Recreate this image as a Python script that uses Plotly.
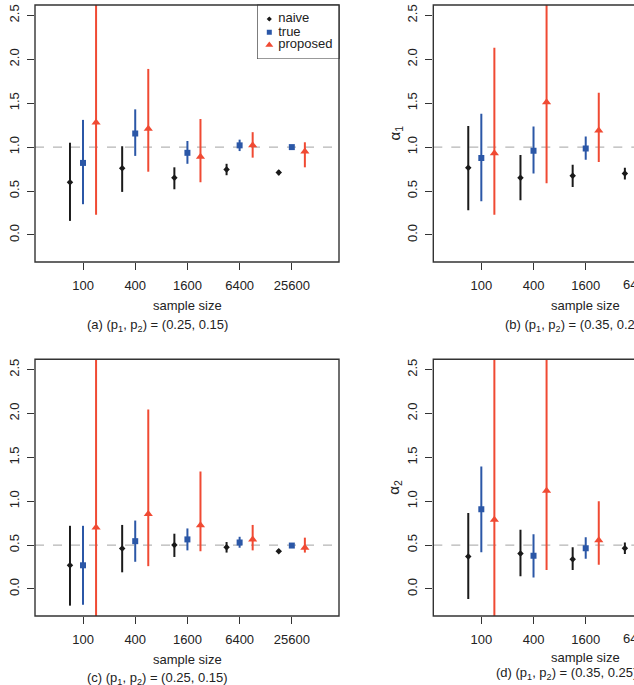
import plotly.graph_objects as go

# ---------------- data ----------------
sample_sizes = [100, 400, 1600, 6400, 25600]
series_names = ["naive", "true", "proposed"]

# panel (a)
naive_a_est = [0.60, 0.76, 0.65, 0.745, 0.71]
naive_a_lo = [0.16, 0.49, 0.52, 0.68, 0.68]
naive_a_hi = [1.05, 1.01, 0.77, 0.81, 0.74]
true_a_est = [0.82, 1.155, 0.935, 1.02, 1.00]
true_a_lo = [0.35, 0.90, 0.81, 0.955, 0.975]
true_a_hi = [1.31, 1.43, 1.07, 1.085, 1.02]
prop_a_est = [1.28, 1.21, 0.89, 1.02, 0.95]
prop_a_lo = [0.23, 0.72, 0.60, 0.88, 0.77]
prop_a_hi = [3.0, 1.89, 1.32, 1.17, 1.055]

# panel (b) (right part cut off in the picture)
naive_b_est = [0.765, 0.65, 0.675, 0.70]
naive_b_lo = [0.28, 0.395, 0.545, 0.63]
naive_b_hi = [1.24, 0.91, 0.80, 0.765]
true_b_est = [0.875, 0.96, 0.985]
true_b_lo = [0.385, 0.70, 0.855]
true_b_hi = [1.38, 1.235, 1.12]
prop_b_est = [0.93, 1.51, 1.19]
prop_b_lo = [0.23, 0.59, 0.83]
prop_b_hi = [2.13, 3.0, 1.62]

# panel (c)
naive_c_est = [0.27, 0.46, 0.50, 0.475, 0.43]
naive_c_lo = [-0.19, 0.19, 0.365, 0.415, 0.41]
naive_c_hi = [0.72, 0.73, 0.63, 0.535, 0.455]
true_c_est = [0.27, 0.545, 0.565, 0.53, 0.495]
true_c_lo = [-0.18, 0.31, 0.44, 0.47, 0.475]
true_c_hi = [0.72, 0.78, 0.69, 0.595, 0.515]
prop_c_est = [0.70, 0.855, 0.725, 0.565, 0.47]
prop_c_lo = [-0.6, 0.26, 0.43, 0.44, 0.415]
prop_c_hi = [3.0, 2.045, 1.34, 0.73, 0.585]

# panel (d) (right part cut off in the picture)
naive_d_est = [0.37, 0.405, 0.34, 0.465]
naive_d_lo = [-0.115, 0.145, 0.215, 0.40]
naive_d_hi = [0.865, 0.675, 0.475, 0.53]
true_d_est = [0.91, 0.38, 0.465]
true_d_lo = [0.42, 0.13, 0.345]
true_d_hi = [1.395, 0.625, 0.59]
prop_d_est = [0.79, 1.12, 0.555]
prop_d_lo = [-0.6, 0.215, 0.275]
prop_d_hi = [3.0, 3.0, 1.0]

ref_values = [1.0, 1.0, 0.5, 0.5]
y_ticks = [0.0, 0.5, 1.0, 1.5, 2.0, 2.5]
captions = ["(a) (p<sub>1</sub>, p<sub>2</sub>) = (0.25, 0.15)",
            "(b) (p<sub>1</sub>, p<sub>2</sub>) = (0.35, 0.25)",
            "(c) (p<sub>1</sub>, p<sub>2</sub>) = (0.25, 0.15)",
            "(d) (p<sub>1</sub>, p<sub>2</sub>) = (0.35, 0.25)"]
y_titles = [None, "α<sub>1</sub>", None, "α<sub>2</sub>"]

panels = [
    [(naive_a_est, naive_a_lo, naive_a_hi), (true_a_est, true_a_lo, true_a_hi), (prop_a_est, prop_a_lo, prop_a_hi)],
    [(naive_b_est, naive_b_lo, naive_b_hi), (true_b_est, true_b_lo, true_b_hi), (prop_b_est, prop_b_lo, prop_b_hi)],
    [(naive_c_est, naive_c_lo, naive_c_hi), (true_c_est, true_c_lo, true_c_hi), (prop_c_est, prop_c_lo, prop_c_hi)],
    [(naive_d_est, naive_d_lo, naive_d_hi), (true_d_est, true_d_lo, true_d_hi), (prop_d_est, prop_d_lo, prop_d_hi)],
]

# ---------------- styling / layout ----------------
W, H = 634, 685
FONT = "Liberation Sans, Arial, Helvetica, sans-serif"
FS = 13
TXT = "#222222"
colors = ["#1a1a1a", "#2B57A7", "#F04A33"]
symbols = ["diamond", "square", "triangle-up"]
msizes = [5, 6, 8]
offsets = [-0.25, 0.0, 0.25]

px_per_idx = 52.2
x0_idx = 0.08
# plot boxes in pixels: left, right, top, bottom
boxes = [(35, 339, 5, 262), (433.3, 634, 5, 262), (35, 339, 359.3, 616), (433.3, 634, 359.3, 616)]
yrange = [-0.308, 2.618]


def px(x):
    return x / W


def py(y):
    return 1 - y / H


fig = go.Figure()
layout = dict(width=W, height=H, margin=dict(l=0, r=0, t=0, b=0),
              paper_bgcolor="white", plot_bgcolor="white", showlegend=False,
              font=dict(family=FONT, size=FS, color=TXT))
shapes = []
annotations = []

for p in range(4):
    ax = "" if p == 0 else str(p + 1)
    L, R, T, B = boxes[p]
    xr = [x0_idx, x0_idx + (R - L) / px_per_idx]
    layout["xaxis" + ax] = dict(domain=[px(L), px(R)], range=xr, anchor="y" + ax,
                                tickmode="array", tickvals=list(range(1, len(sample_sizes) + 1)),
                                ticktext=[str(s) for s in sample_sizes],
                                ticks="outside", ticklen=7, tickwidth=1.2, tickcolor="#333",
                                ticklabelstandoff=4,
                                showgrid=False, zeroline=False, showline=False,
                                tickfont=dict(size=FS, color=TXT, family=FONT))
    layout["yaxis" + ax] = dict(domain=[py(B), py(T)], range=yrange, anchor="x" + ax,
                                tickmode="array", tickvals=y_ticks,
                                ticktext=["%.1f" % v for v in y_ticks],
                                tickangle=-90, ticks="outside", ticklen=7, tickwidth=1.2,
                                tickcolor="#333", ticklabelstandoff=3,
                                showgrid=False, zeroline=False, showline=False,
                                tickfont=dict(size=FS, color=TXT, family=FONT))
    # reference line
    shapes.append(dict(type="line", xref="x" + ax + " domain", x0=0, x1=1,
                       yref="y" + ax, y0=ref_values[p], y1=ref_values[p],
                       line=dict(color="#b5b5b5", width=1.1, dash="dash"), layer="below"))
    # box
    shapes.append(dict(type="rect", xref="paper", yref="paper",
                       x0=px(L), x1=px(R) if R < W else 1.3, y0=py(B), y1=py(T),
                       line=dict(color="#333333", width=1.4)))
    # data
    for s in range(3):
        est, lo, hi = panels[p][s]
        xs = [i + 1 + offsets[s] for i in range(len(est))]
        fig.add_trace(go.Scatter(
            x=xs, y=est, mode="markers", name=series_names[s],
            xaxis="x" + ax, yaxis="y" + ax,
            marker=dict(symbol=symbols[s], size=msizes[s], color=colors[s], line=dict(width=0)),
            error_y=dict(type="data", symmetric=False,
                         array=[h - e for h, e in zip(hi, est)],
                         arrayminus=[e - l for e, l in zip(est, lo)],
                         color=colors[s], thickness=2, width=0),
        ))
    # tick labels that are cut by the right edge
    if R >= W:
        for i in range(len(sample_sizes)):
            xi = i + 1
            xpix = L + (xi - xr[0]) * px_per_idx
            if xpix > R:
                annotations.append(dict(xref="paper", yref="paper", x=px(xpix), y=py(B + 22),
                                        text=str(sample_sizes[i]), showarrow=False,
                                        xanchor="center", yanchor="middle",
                                        font=dict(size=FS, color=TXT, family=FONT)))
    # axis title & caption
    cx = (L + (1 - x0_idx) * px_per_idx + L + (len(sample_sizes) - x0_idx) * px_per_idx) / 2 if p % 2 == 0 else 585.7
    sy = [305.3, 305.3, 659.3, 657.3][p]
    annotations.append(dict(xref="paper", yref="paper", x=px(cx), y=py(sy), text="sample size",
                            showarrow=False, xanchor="center", yanchor="middle",
                            font=dict(size=FS, color=TXT, family=FONT)))
    capx = [85, 503.3, 85, 494][p]
    capy = [325, 325, 678.3, 673.3][p]
    annotations.append(dict(xref="paper", yref="paper", x=px(capx), y=py(capy), text=captions[p],
                            showarrow=False, xanchor="left", yanchor="middle",
                            font=dict(size=FS, color=TXT, family=FONT)))
    if y_titles[p]:
        annotations.append(dict(xref="paper", yref="paper", x=px(395), y=py((T + B) / 2),
                                text=y_titles[p], textangle=-90, showarrow=False,
                                xanchor="center", yanchor="middle",
                                font=dict(size=15, color=TXT, family=FONT)))

# ---------------- legend (manual, R style) ----------------
LL, LR, LT, LB = 257.7, 339, 5, 58.5
layout["xaxis5"] = dict(domain=[px(LL), px(LR)], range=[0, LR - LL], visible=False, anchor="y5")
layout["yaxis5"] = dict(domain=[py(LB), py(LT)], range=[LB - LT, 0], visible=False, anchor="x5")
shapes.append(dict(type="rect", xref="paper", yref="paper", x0=px(LL), x1=px(LR),
                   y0=py(LB), y1=py(LT), line=dict(color="#333333", width=1.2),
                   fillcolor="white", layer="below"))
leg_y = [14, 27.3, 40]
for s in range(3):
    fig.add_trace(go.Scatter(x=[11.6], y=[leg_y[s]], mode="markers", xaxis="x5", yaxis="y5",
                             marker=dict(symbol=symbols[s], size=msizes[s] - 1, color=colors[s]),
                             hoverinfo="skip"))
fig.add_trace(go.Scatter(x=[20.5, 20.5, 20.5], y=leg_y, mode="text", text=series_names,
                         textposition="middle right", xaxis="x5", yaxis="y5",
                         textfont=dict(size=FS, color=TXT, family=FONT), hoverinfo="skip"))

layout["shapes"] = shapes
layout["annotations"] = annotations
fig.update_layout(**layout)
fig.write_html("out.html")
